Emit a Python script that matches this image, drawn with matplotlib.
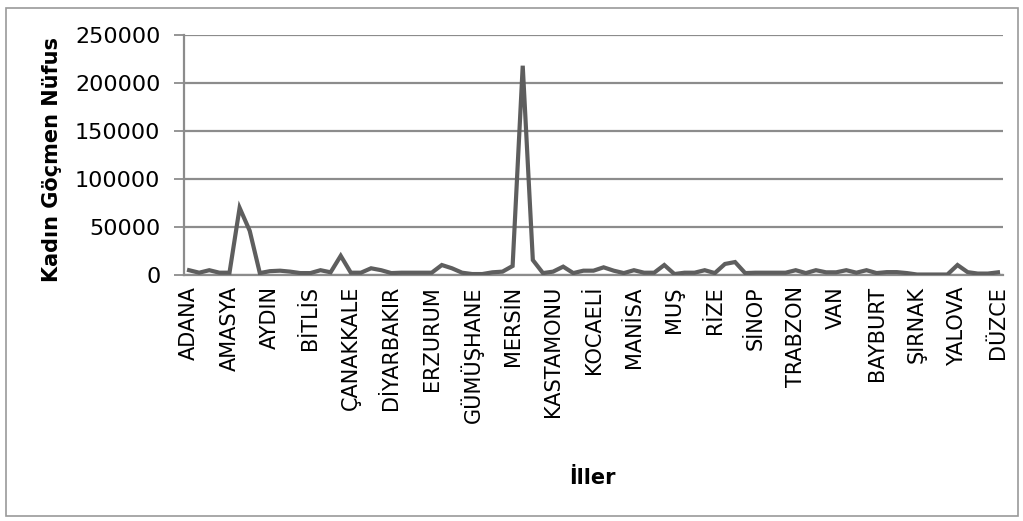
import matplotlib
matplotlib.use("Agg")
import matplotlib.pyplot as plt
from matplotlib.patches import Rectangle

provinces = ["ADANA", "ADIYAMAN", "AFYONKARAHİSAR", "AĞRI", "AMASYA", "ANKARA", "ANTALYA", "ARTVİN",
             "AYDIN", "BALIKESİR", "BİLECİK", "BİNGÖL", "BİTLİS", "BOLU", "BURDUR", "BURSA",
             "ÇANAKKALE", "ÇANKIRI", "ÇORUM", "DENİZLİ", "DİYARBAKIR", "EDİRNE", "ELAZIĞ", "ERZİNCAN",
             "ERZURUM", "ESKİŞEHİR", "GAZİANTEP", "GİRESUN", "GÜMÜŞHANE", "HAKKARİ", "HATAY", "ISPARTA",
             "MERSİN", "İSTANBUL", "İZMİR", "KARS", "KASTAMONU", "KAYSERİ", "KIRKLARELİ", "KIRŞEHİR",
             "KOCAELİ", "KONYA", "KÜTAHYA", "MALATYA", "MANİSA", "KAHRAMANMARAŞ", "MARDİN", "MUĞLA",
             "MUŞ", "NEVŞEHİR", "NİĞDE", "ORDU", "RİZE", "SAKARYA", "SAMSUN", "SİİRT",
             "SİNOP", "SİVAS", "TEKİRDAĞ", "TOKAT", "TRABZON", "TUNCELİ", "ŞANLIURFA", "UŞAK",
             "VAN", "YOZGAT", "ZONGULDAK", "AKSARAY", "BAYBURT", "KARAMAN", "KIRIKKALE", "BATMAN",
             "ŞIRNAK", "BARTIN", "ARDAHAN", "IĞDIR", "YALOVA", "KARABÜK", "KİLİS", "OSMANİYE", "DÜZCE"]

female_migrants = [5000, 2400, 5000, 2400, 2400, 70000, 46000, 2000,
                   4000, 4500, 3500, 2000, 2000, 5000, 2800, 20000,
                   2400, 2400, 7000, 5000, 2000, 2400, 2400, 2400,
                   2400, 10400, 7000, 2400, 1000, 1000, 2800, 3500,
                   9400, 218000, 15600, 2000, 3500, 8700, 2000, 4500,
                   4500, 8000, 4500, 2000, 5000, 2400, 2400, 10400,
                   1000, 2400, 2400, 5000, 2000, 11500, 13500, 2000,
                   2400, 2400, 2400, 2400, 5000, 2000, 5000, 2800,
                   2800, 5000, 2400, 5000, 2000, 3000, 3000, 2000,
                   500, 500, 500, 500, 10400, 3000, 1500, 1500, 2800]

y_ticks = [0, 50000, 100000, 150000, 200000, 250000]
label_step = 4

fig = plt.figure(figsize=(10.23, 5.21), dpi=100)
fig.patch.set_facecolor("white")
fig.patches.append(Rectangle((6/1023, 5/521), 1012/1023, 508/521, transform=fig.transFigure,
                             fill=False, edgecolor="#9a9a9a", linewidth=1.2))

ax = fig.add_axes([184/1023, 1 - 275/521, 819/1023, 240/521])
x = list(range(1, len(provinces) + 1))
ax.plot(x, female_migrants, color="#5e5e5e", linewidth=3.0, solid_joinstyle="miter", zorder=3)

ax.set_xlim(0.5, len(provinces) + 0.5)
ax.set_ylim(0, 250000)
ax.set_yticks(y_ticks)
ax.set_yticklabels([str(v) for v in y_ticks], fontsize=16, color="#000000")
ax.yaxis.grid(True, color="#8c8c8c", linewidth=1.6)
ax.set_axisbelow(True)

xt = x[::label_step]
ax.set_xticks(xt)
ax.set_xticklabels(provinces[::label_step], rotation=90, fontsize=15, va="top", ha="center")
ax.tick_params(axis="x", length=0, pad=8)
ax.tick_params(axis="y", length=7, width=1.3, color="#8c8c8c", pad=10)

for s in ["top", "right"]:
    ax.spines[s].set_visible(False)
ax.spines["left"].set_color("#8c8c8c")
ax.spines["left"].set_linewidth(1.6)
ax.spines["bottom"].set_color("#8c8c8c")
ax.spines["bottom"].set_linewidth(1.6)

fig.text(52/1023, 1 - 160/521, "Kadın Göçmen Nüfus", rotation=90, fontsize=15, fontweight="bold",
         ha="center", va="center")
fig.text(592/1023, 1 - 478/521, "İller", fontsize=15, fontweight="bold", ha="center", va="center")

fig.savefig("out.png", dpi=100)
